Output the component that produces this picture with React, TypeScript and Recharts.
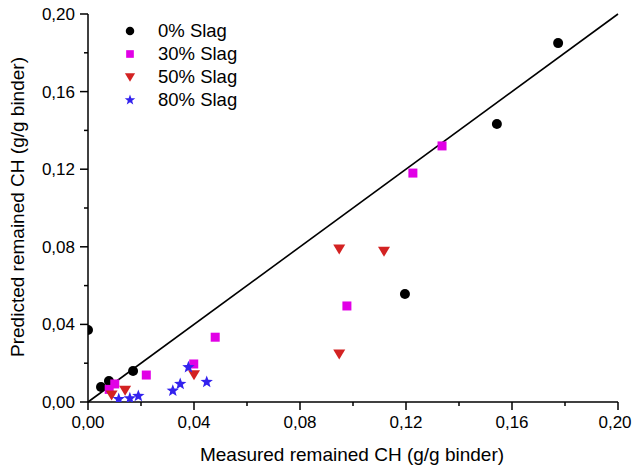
import { ScatterChart, Scatter, XAxis, YAxis, ReferenceLine, Legend } from 'recharts';

const FONT = '"Liberation Sans", Arial, sans-serif';

// measured (x) / predicted (y) remained CH, g/g binder
const slag0X = [0.0, 0.0049, 0.0079, 0.017, 0.1196, 0.1543, 0.1774];
const slag0Y = [0.0371, 0.0077, 0.0108, 0.016, 0.0557, 0.1433, 0.185];
const slag30X = [0.008, 0.0101, 0.022, 0.0399, 0.048, 0.0977, 0.1226, 0.1336];
const slag30Y = [0.0065, 0.0093, 0.0139, 0.0196, 0.0334, 0.0495, 0.118, 0.132];
const slag50X = [0.0089, 0.014, 0.04, 0.0948, 0.0948, 0.1117];
const slag50Y = [0.0036, 0.006, 0.014, 0.0247, 0.0789, 0.0777];
const slag80X = [0.0116, 0.0158, 0.019, 0.032, 0.0348, 0.0379, 0.0448];
const slag80Y = [0.0015, 0.0019, 0.0031, 0.0058, 0.0093, 0.0179, 0.0103];

const ticks = [0, 0.02, 0.04, 0.06, 0.08, 0.1, 0.12, 0.14, 0.16, 0.18, 0.2];
const seriesNames = ['0% Slag', '30% Slag', '50% Slag', '80% Slag'];

const zip = (xs: number[], ys: number[]) => xs.map((x, i) => ({ x, y: ys[i] }));

const fmt = (v: number) => v.toFixed(2).replace('.', ',');

function Marker({ kind, cx, cy, s = 1 }: { kind: number; cx: number; cy: number; s?: number }) {
  if (kind === 0) return <circle cx={cx} cy={cy} r={5 * s} fill="#000" />;
  if (kind === 1) {
    const h = 4.5 * s;
    return <rect x={cx - h} y={cy - h} width={2 * h} height={2 * h} fill="#e100e6" />;
  }
  if (kind === 2) {
    const w = 6 * s;
    return <polygon points={`${cx - w},${cy - 4.5 * s} ${cx + w},${cy - 4.5 * s} ${cx},${cy + 5.5 * s}`} fill="#d32222" />;
  }
  const pts: string[] = [];
  for (let i = 0; i < 10; i++) {
    const r = i % 2 === 0 ? 6.5 * s : 2.7 * s;
    const a = -Math.PI / 2 + (i * Math.PI) / 5;
    pts.push(`${cx + r * Math.cos(a)},${cy + r * Math.sin(a)}`);
  }
  return <polygon points={pts.join(' ')} fill="#3322ee" />;
}

const XTick = (props: any) => {
  const { x, y, payload, index } = props;
  const major = index % 2 === 0;
  // last label sits right at the page edge, pull it in a touch
  const tx = index === ticks.length - 1 ? x - 3 : x;
  return (
    <g>
      <line x1={x} y1={y} x2={x} y2={y + (major ? 8 : 4)} stroke="#000" strokeWidth={1.5} />
      {major && (
        <text x={tx} y={y + 26} textAnchor="middle" fontSize={17} fontFamily={FONT} fill="#000">
          {fmt(payload.value)}
        </text>
      )}
    </g>
  );
};

const YTick = (props: any) => {
  const { x, y, payload, index } = props;
  const major = index % 2 === 0;
  return (
    <g>
      <line x1={x} y1={y} x2={x - (major ? 8 : 4)} y2={y} stroke="#000" strokeWidth={1.5} />
      {major && (
        <text x={x - 13} y={y + 6} textAnchor="end" fontSize={17} fontFamily={FONT} fill="#000">
          {fmt(payload.value)}
        </text>
      )}
    </g>
  );
};

const LegendBox = () => (
  <svg width={140} height={100}>
    {seriesNames.map((n, i) => (
      <g key={n}>
        <Marker kind={i} cx={15} cy={13 + i * 23} s={0.85} />
        <text x={43} y={19 + i * 23} fontSize={18.5} fontFamily={FONT} fill="#000">
          {n}
        </text>
      </g>
    ))}
  </svg>
);

export default function App() {
  const series = [zip(slag0X, slag0Y), zip(slag30X, slag30Y), zip(slag50X, slag50Y), zip(slag80X, slag80Y)];
  return (
    <div style={{ position: 'absolute', left: 0, top: 0, background: '#fff' }}>
      <ScatterChart width={633} height={468} margin={{ top: 14, right: 15, bottom: 0, left: 0 }}>
        <XAxis
          type="number"
          dataKey="x"
          domain={[0, 0.2]}
          ticks={ticks}
          interval={0}
          allowDataOverflow
          height={66}
          tickSize={0}
          tickMargin={0}
          tick={<XTick />}
          axisLine={{ stroke: '#000', strokeWidth: 1.5 }}
          label={{
            content: () => (
              <text x={352} y={461} textAnchor="middle" fontSize={19} fontFamily={FONT} fill="#000">
                Measured remained CH (g/g binder)
              </text>
            ),
          }}
        />
        <YAxis
          type="number"
          dataKey="y"
          domain={[0, 0.2]}
          ticks={ticks}
          interval={0}
          allowDataOverflow
          width={88}
          tickSize={0}
          tickMargin={0}
          tick={<YTick />}
          axisLine={{ stroke: '#000', strokeWidth: 1.5 }}
          label={{
            content: () => (
              <text
                x={24}
                y={207}
                transform="rotate(-90 24 207)"
                textAnchor="middle"
                fontSize={19}
                fontFamily={FONT}
                fill="#000"
              >
                Predicted remained CH (g/g binder)
              </text>
            ),
          }}
        />
        <ReferenceLine
          segment={[
            { x: 0, y: 0 },
            { x: 0.2, y: 0.2 },
          ]}
          stroke="#000"
          strokeWidth={1.6}
          ifOverflow="visible"
        />
        {series.map((d, i) => (
          <Scatter
            key={seriesNames[i]}
            name={seriesNames[i]}
            data={d}
            isAnimationActive={false}
            shape={(p: any) => <Marker kind={i} cx={p.cx} cy={p.cy} />}
          />
        ))}
        <Legend
          layout="vertical"
          align="center"
          verticalAlign="middle"
          content={() => <LegendBox />}
          wrapperStyle={{ position: 'absolute', left: 115, top: 18, width: 140, height: 100 }}
        />
      </ScatterChart>
    </div>
  );
}
